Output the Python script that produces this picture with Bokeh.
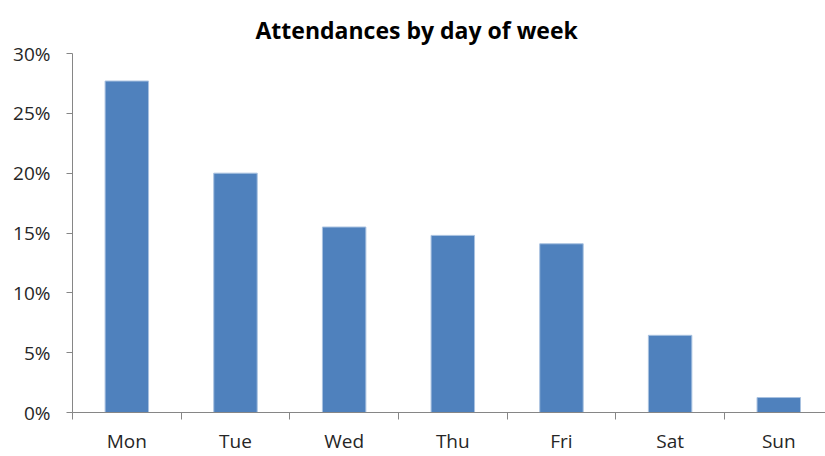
from bokeh.plotting import figure
from bokeh.models import Range1d, FixedTicker, NumeralTickFormatter
from bokeh.embed import file_html
from bokeh.resources import INLINE

# ---- data ----
days = ["Mon", "Tue", "Wed", "Thu", "Fri", "Sat", "Sun"]
attendance_pct = [27.7, 20.0, 15.5, 14.8, 14.1, 6.45, 1.25]
y_ticks_pct = [0, 5, 10, 15, 20, 25, 30]
title_text = "Attendances by day of week"

centers = [i + 0.5 for i in range(len(days))]
boundaries = list(range(len(days) + 1))
shares = [v / 100 for v in attendance_pct]

FONT = "Open Sans"
AXIS_COL = "#868686"
TEXT_COL = "#262626"

p = figure(width=825, height=456, output_backend="svg", toolbar_location=None,
           x_range=Range1d(0, 6.93), y_range=Range1d(0, 0.30),
           min_border_left=72, min_border_right=0, min_border_top=53,
           min_border_bottom=43, title=title_text)
p.outline_line_color = None
p.xgrid.grid_line_color = None
p.ygrid.grid_line_color = None

p.title.align = "left"
p.title.offset = 183
p.title.standoff = 15
p.title.text_font = FONT
p.title.text_font_size = "23px"
p.title.text_font_style = "bold"
p.title.text_color = "#000000"

p.vbar(x=centers, top=shares, width=0.4, fill_color="#4F81BD",
       line_color="#A9C2E0", line_width=1)

# y axis
ya = p.yaxis[0]
ya.ticker = FixedTicker(ticks=[t / 100 for t in y_ticks_pct])
ya.formatter = NumeralTickFormatter(format="0%")
ya.axis_line_color = AXIS_COL
ya.major_tick_line_color = AXIS_COL
ya.major_tick_out = 6
ya.major_tick_in = 0
ya.minor_tick_line_color = None
ya.major_label_standoff = 16
ya.major_label_text_font = FONT
ya.major_label_text_font_size = "19px"
ya.major_label_text_color = TEXT_COL

# x axis: labels at category centres, tick marks at category boundaries
xa = p.xaxis[0]
xa.ticker = FixedTicker(ticks=centers, minor_ticks=boundaries)
xa.major_label_overrides = {c: d for c, d in zip(centers, days)}
xa.axis_line_color = AXIS_COL
xa.major_tick_line_color = None
xa.major_tick_out = 0
xa.major_tick_in = 0
xa.minor_tick_line_color = AXIS_COL
xa.minor_tick_out = 7
xa.minor_tick_in = 0
xa.major_label_standoff = 8
xa.major_label_text_font = FONT
xa.major_label_text_font_size = "19px"
xa.major_label_text_color = TEXT_COL

open("out.html", "w").write(file_html(p, INLINE))
